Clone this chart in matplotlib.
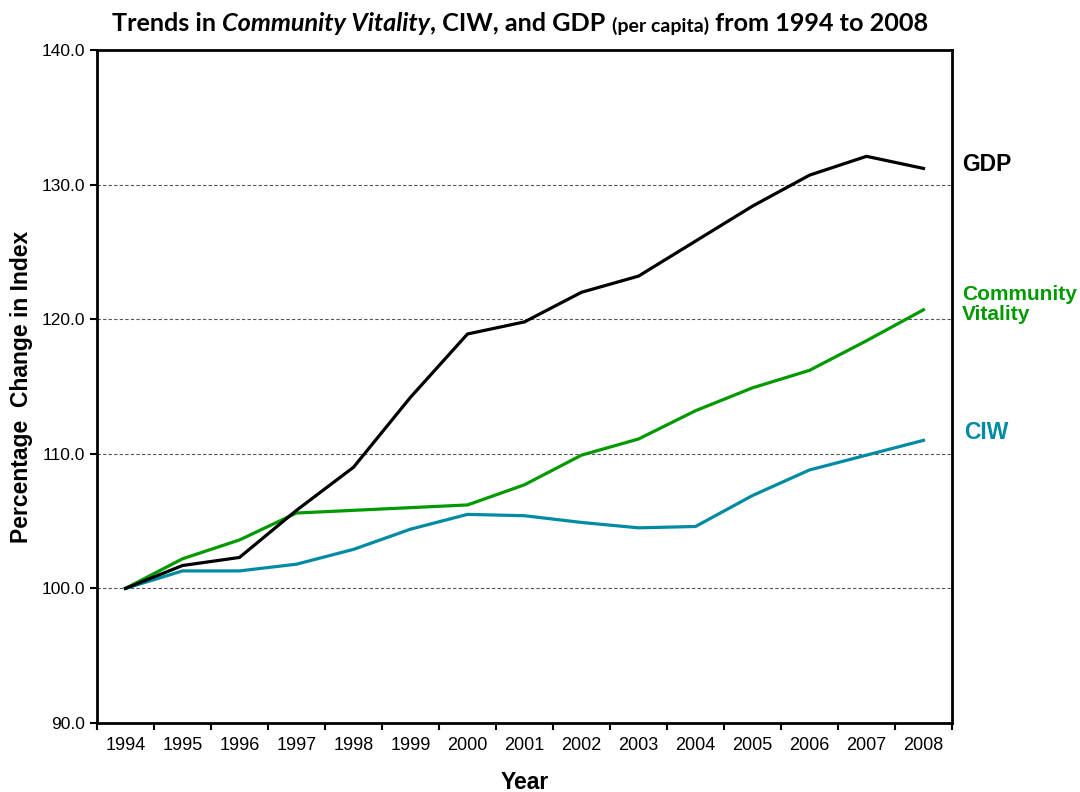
import matplotlib.pyplot as plt

years = list(range(1994, 2009))
gdp = [100.0, 101.7, 102.3, 105.8, 109.0, 114.2, 118.9, 119.8, 122.0, 123.2,
       125.8, 128.4, 130.7, 132.1, 131.2]
vitality = [100.0, 102.2, 103.6, 105.6, 105.8, 106.0, 106.2, 107.7, 109.9, 111.1,
            113.2, 114.9, 116.2, 118.4, 120.7]
ciw = [100.0, 101.3, 101.3, 101.8, 102.9, 104.4, 105.5, 105.4, 104.9, 104.5,
       104.6, 106.9, 108.8, 109.9, 111.0]

black = '#000000'
green = '#009A00'
teal = '#008BA2'

plt.rcParams['font.family'] = ['Liberation Sans', 'DejaVu Sans']

fig = plt.figure(figsize=(10.8, 7.92), dpi=100)
ax = fig.add_axes([0.0898, 0.0871, 0.7917, 0.8498])

ax.plot(years, ciw, color=teal, lw=2.3)
ax.plot(years, vitality, color=green, lw=2.3)
ax.plot(years, gdp, color=black, lw=2.3)

ax.set_xlim(1993.5, 2008.5)
ax.set_ylim(90, 140)
yt = [90, 100, 110, 120, 130, 140]
ax.set_yticks(yt)
ax.set_yticklabels([f'{v:.1f}' for v in yt])

# category axis: ticks sit between years, labels centred on them
ax.set_xticks([y - 0.5 for y in years] + [2008.5])
ax.set_xticklabels([])
ax.set_xticks(years, minor=True)
ax.set_xticklabels([str(y) for y in years], minor=True)
ax.tick_params(axis='x', which='minor', length=0, pad=10, labelsize=13)
ax.tick_params(axis='x', which='major', direction='out', length=5, width=1.5)
ax.tick_params(axis='y', direction='out', length=5, width=1.5, labelsize=12.5)

for s in ax.spines.values():
    s.set_linewidth(2)

for v in [100, 110, 120, 130]:
    ax.axhline(v, color='#555555', lw=0.8, ls=(0, (3, 2)), zorder=0)

ax.set_ylabel('Percentage  Change in Index', fontsize=16.5, fontweight='bold', labelpad=6)
ax.set_xlabel('Year', fontsize=16.5, fontweight='bold', labelpad=12)

# series labels to the right of the plot
yx = ax.get_yaxis_transform()
ax.text(1.012, gdp[-1] + 0.3, 'GDP', transform=yx, fontsize=16.5,
        fontweight='bold', color=black, va='center', ha='left')
ax.text(1.012, vitality[-1] + 0.4, 'Community\nVitality', transform=yx,
        fontsize=15, fontweight='bold', color=green, va='center', ha='left',
        linespacing=1.05)
ax.text(1.014, ciw[-1] + 0.6, 'CIW', transform=yx, fontsize=16.5,
        fontweight='bold', color=teal, va='center', ha='left')

# title built from pieces with mixed styles, each placed after the previous one
tf = 'Lato'
parts = [
    ('Trends in ', dict(fontsize=18.2)),
    ('Community Vitality', dict(fontsize=18.2, fontstyle='italic')),
    (', CIW, and GDP ', dict(fontsize=18.2)),
    ('(per capita)', dict(fontsize=14)),
    (' from 1994 to 2008', dict(fontsize=18.2)),
]
prev = fig.text(0.104, 0.961, parts[0][0], family=tf, fontweight='bold',
                va='baseline', ha='left', **parts[0][1])
for txt, kw in parts[1:]:
    prev = ax.annotate(txt, xy=(1, 0), xycoords=prev, xytext=(0, 0),
                       textcoords='offset points', va='bottom', ha='left',
                       family=tf, fontweight='bold', annotation_clip=False, **kw)

fig.savefig('out.png', dpi=100)
